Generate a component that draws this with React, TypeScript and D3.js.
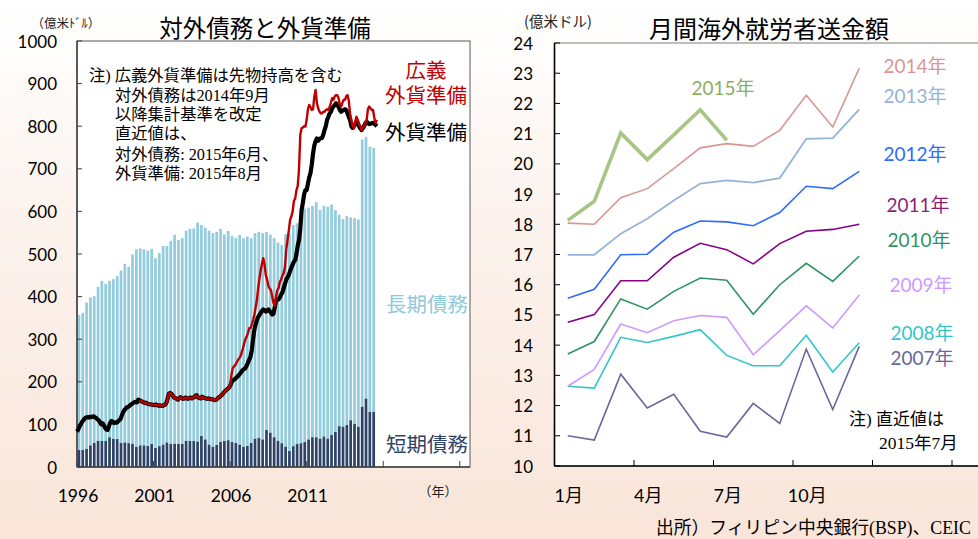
import React from "react";
import * as d3 from "d3";

// ---------------- Left chart data (対外債務と外貨準備) ----------------
// quarterly bars from 1996Q1 to 2015Q2 (億米ドル)
const shortTermDebt = [
  40, 40, 43, 51, 57, 62, 61, 61, 70, 66, 66, 57, 58, 56, 55, 47, 51, 51, 50, 54,
  45, 49, 53, 58, 54, 55, 54, 54, 62, 61, 61, 60, 73, 65, 53, 48, 52, 59, 61, 63,
  59, 57, 53, 48, 50, 57, 67, 69, 65, 87, 81, 70, 62, 56, 48, 38, 49, 54, 56, 59,
  65, 70, 70, 67, 72, 67, 75, 83, 96, 95, 99, 110, 102, 95, 142, 161, 130, 130,
];
const longTermDebt = [
  317, 322, 343, 347, 344, 361, 376, 369, 367, 375, 382, 404, 419, 414, 444, 464, 462, 460, 458, 458,
  445, 453, 466, 461, 477, 490, 479, 483, 493, 498, 499, 514, 495, 497, 502, 501, 500, 500, 485, 491,
  483, 481, 492, 489, 491, 480, 482, 483, 484, 465, 464, 467, 465, 465, 499, 509, 519, 518, 539, 548,
  544, 543, 552, 536, 541, 544, 541, 520, 496, 487, 490, 476, 482, 486, 627, 614, 622, 619,
];
// monthly foreign reserves from 1996-01 to 2015-08
const reserves = [
  83, 88, 95, 100, 106, 110, 114, 116, 117, 116, 118, 117,
  118, 119, 117, 115, 112, 110, 105, 100, 103, 98, 92, 88,
  87, 95, 104, 108, 106, 103, 105, 104, 106, 110, 112, 120,
  128, 133, 136, 140, 141, 143, 146, 148, 150, 152, 153, 152,
  158, 157, 155, 154, 152, 150, 151, 149, 148, 147, 147, 146,
  146, 145, 147, 145, 144, 145, 144, 143, 145, 146, 150, 160,
  172, 174, 172, 168, 163, 162, 160, 158, 161, 164, 162, 160,
  161, 163, 161, 160, 162, 163, 161, 163, 164, 168, 168, 163,
  162, 161, 165, 163, 162, 161, 160, 161, 160, 159, 159, 158,
  157, 158, 160, 163, 165, 168, 171, 175, 178, 181, 183, 186,
  190, 198, 203, 205, 207, 210, 213, 216, 220, 224, 228, 230,
  232, 238, 245, 252, 259, 275, 300, 322, 335, 345, 352, 357,
  362, 366, 370, 368, 365, 367, 370, 366, 362, 358, 360, 375,
  390, 392, 394, 398, 405, 410, 420, 430, 440, 445, 451, 460,
  468, 475, 482, 486, 500, 520, 533, 560, 603, 620, 640, 650,
  650, 665, 680, 690, 710, 736, 755, 765, 771, 766, 770, 772,
  772, 780, 791, 800, 815, 822, 830, 834, 842, 846, 850, 854,
  850, 845, 838, 834, 836, 838, 840, 838, 830, 822, 815, 800,
  796, 800, 805, 811, 808, 800, 795, 791, 795, 800, 807, 811,
  807, 805, 806, 807, 808, 806, 803, 800,
];
// broad reserves (incl. forward position), monthly from 2000-02 to 2015-08
const broadStartMonth = 49;
const broadReserves = [
  157, 155, 154, 152, 150, 151, 149, 148, 147, 147, 146,
  146, 145, 147, 145, 144, 145, 144, 143, 145, 146, 150, 160,
  172, 174, 172, 168, 163, 162, 160, 158, 161, 164, 162, 160,
  161, 163, 161, 160, 162, 163, 161, 163, 164, 168, 168, 163,
  162, 161, 165, 163, 162, 161, 160, 161, 160, 159, 159, 158,
  157, 158, 160, 163, 165, 168, 171, 175, 178, 181, 183, 186,
  192, 215, 232, 236, 239, 245, 250, 255, 259, 268, 278, 290,
  300, 306, 315, 326, 326, 335, 345, 357, 375, 392, 420, 443,
  462, 478, 490, 475, 450, 440, 425, 419, 415, 400, 385, 378,
  400, 415, 420, 435, 440, 450, 455, 470, 510, 533, 555, 580,
  588, 600, 625, 630, 650, 660, 700, 780, 795, 797, 800, 799,
  815, 840, 850, 845, 838, 840, 870, 885, 855, 842, 835, 830,
  830, 834, 834, 838, 840, 838, 845, 855, 866, 862, 870, 873,
  873, 866, 850, 846, 855, 862, 862, 870, 873, 860, 830, 815,
  800, 795, 810, 822, 815, 805, 800, 791, 795, 800, 807, 815,
  840, 846, 842, 838, 838, 820, 807, 815,
];
const leftYTicks = [0, 100, 200, 300, 400, 500, 600, 700, 800, 900, 1000];
const leftTickYears = [1996, 2001, 2006, 2011, 2016, 2021];
const leftLabelYears = [1996, 2001, 2006, 2011];
const leftNoteLines = [
  "対外債務は2014年9月",
  "以降集計基準を改定",
  "直近値は、",
  "対外債務: 2015年6月、",
  "外貨準備: 2015年8月",
];

// ---------------- Right chart data (月間海外就労者送金額) ----------------
const rightSlots = 16;
const monthLabelSlots = [0, 3, 6, 9];
const monthLabels = ["1月", "4月", "7月", "10月"];
const rightYTicks = [10, 11, 12, 13, 14, 15, 16, 17, 18, 19, 20, 21, 22, 23, 24];
const rightTickSlots = [3, 6, 9, 12, 15];
const years = ["2007", "2008", "2009", "2010", "2011", "2012", "2013", "2014", "2015"];
const r2007 = [11.0, 10.86, 13.04, 11.92, 12.37, 11.15, 10.96, 12.07, 11.41, 13.87, 11.87, 13.96];
const r2008 = [12.64, 12.58, 14.26, 14.09, 14.29, 14.51, 13.66, 13.32, 13.32, 14.33, 13.11, 14.08];
const r2009 = [12.64, 13.2, 14.7, 14.41, 14.81, 14.98, 14.92, 13.68, 14.48, 15.3, 14.57, 15.66];
const r2010 = [13.71, 14.12, 15.53, 15.19, 15.78, 16.22, 16.15, 15.02, 16.0, 16.71, 16.11, 16.95];
const r2011 = [14.76, 15.01, 16.13, 16.13, 16.91, 17.37, 17.16, 16.69, 17.36, 17.77, 17.83, 18.0];
const r2012 = [15.55, 15.85, 16.99, 17.01, 17.74, 18.11, 18.08, 17.95, 18.39, 19.26, 19.18, 19.75];
const r2013 = [16.99, 16.99, 17.69, 18.18, 18.79, 19.35, 19.45, 19.38, 19.53, 20.83, 20.85, 21.8];
const r2014 = [18.04, 18.0, 18.88, 19.18, 19.84, 20.53, 20.67, 20.58, 21.11, 22.27, 21.22, 23.17];
const r2015 = [18.13, 18.76, 21.02, 20.14, 20.96, 21.79, 20.78];
const remittance = [r2007, r2008, r2009, r2010, r2011, r2012, r2013, r2014, r2015];

// ---------------- styles ----------------
const SANS = "Lato, 'Noto Sans CJK JP', sans-serif";
const JP = "'Noto Sans CJK JP', sans-serif";
const SERIFJP = "'Liberation Serif', 'Noto Sans CJK JP', serif";

const yearStyle: Record<string, { color: string; text: string; width: number; lx: number; ly: number }> = {
  "2007": { color: "#68689A", text: "#68689A", width: 1.6, lx: 922, ly: 357 },
  "2008": { color: "#33C6C6", text: "#33C6C6", width: 1.6, lx: 922, ly: 332 },
  "2009": { color: "#CC99FF", text: "#CC99FF", width: 1.6, lx: 921, ly: 284 },
  "2010": { color: "#2E9560", text: "#2E9560", width: 1.6, lx: 919, ly: 239 },
  "2011": { color: "#850085", text: "#8C1F72", width: 1.6, lx: 918, ly: 204 },
  "2012": { color: "#2F6BFF", text: "#2F6BFF", width: 1.6, lx: 915, ly: 153 },
  "2013": { color: "#95B3D7", text: "#95B3D7", width: 1.8, lx: 915, ly: 95 },
  "2014": { color: "#D99694", text: "#D99694", width: 1.6, lx: 915, ly: 65 },
  "2015": { color: "#A8C585", text: "#8DAE5E", width: 3.6, lx: 723, ly: 87 },
};

export default function App() {
  // left scales
  const xL = d3.scaleLinear().domain([0, 308]).range([77, 470]);
  const yL = d3.scaleLinear().domain([0, 1000]).range([467, 41]);
  const rows = shortTermDebt.map((s, i) => ({ q: i, short: s, long: longTermDebt[i] }));
  const stacked = d3.stack<any>().keys(["short", "long"])(rows);
  const barColors = ["#2D4468", "#93CDDD"];
  const qw = xL(3) - xL(0);
  const lineL = d3
    .line<[number, number]>()
    .x((d) => xL(d[0]))
    .y((d) => yL(d[1]));
  const resPts: [number, number][] = reserves.map((v, i) => [i, v]);
  const broadPts: [number, number][] = broadReserves.map((v, i) => [broadStartMonth + i, v]);

  // right scales
  const xR = d3.scaleBand<number>().domain(d3.range(rightSlots)).range([554.5, 978.5]);
  const yR = d3.scaleLinear().domain([10, 24]).range([466, 43]);
  const lineR = d3
    .line<number>()
    .x((_, i) => (xR(i) as number) + xR.bandwidth() / 2)
    .y((d) => yR(d));

  return (
    <svg
      width={978}
      height={539}
      style={{ position: "absolute", left: 0, top: 0, display: "block" }}
      xmlns="http://www.w3.org/2000/svg"
    >
      <defs>
        <linearGradient id="bg" x1="0" y1="0" x2="0" y2="1">
          <stop offset="0" stopColor="#FFFFFF" />
          <stop offset="0.4" stopColor="#FCF3EE" />
          <stop offset="1" stopColor="#F9E5D9" />
        </linearGradient>
      </defs>
      <rect x={0} y={0} width={978} height={539} fill="url(#bg)" />

      {/* ================= LEFT CHART ================= */}
      <rect x={77} y={41} width={393} height={426} fill="#FFFFFF" stroke="#595959" strokeWidth={1} />
      <text x={265} y={27} textAnchor="middle" dominantBaseline="central" fontFamily={JP} fontSize={23.5} fill="#000">
        対外債務と外貨準備
      </text>
      <text x={66} y={22} textAnchor="middle" dominantBaseline="central" fontFamily={JP} fontSize={12.5} fill="#222">
        （億米ﾄﾞﾙ）
      </text>

      {stacked.map((layer, li) => (
        <g key={layer.key} fill={barColors[li]}>
          {layer.map((d: any, i: number) => (
            <rect
              key={i}
              x={xL(i * 3) + 0.55}
              width={qw - 1.1}
              y={yL(d[1])}
              height={yL(d[0]) - yL(d[1])}
            />
          ))}
        </g>
      ))}

      {/* axes */}
      <line x1={77} x2={77} y1={41} y2={467} stroke="#404040" strokeWidth={1.5} />
      <line x1={77} x2={470} y1={467} y2={467} stroke="#404040" strokeWidth={1.5} />
      {leftYTicks.map((t) => (
        <g key={t}>
          <line x1={77} x2={82} y1={yL(t)} y2={yL(t)} stroke="#404040" strokeWidth={1} />
          <text x={57} y={yL(t)} textAnchor="end" dominantBaseline="central" fontFamily={SANS} fontSize={17} fill="#000">
            {t}
          </text>
        </g>
      ))}
      {leftTickYears.map((yr) => (
        <line
          key={yr}
          x1={xL((yr - 1996) * 12)}
          x2={xL((yr - 1996) * 12)}
          y1={467}
          y2={461}
          stroke="#404040"
          strokeWidth={1}
        />
      ))}
      {leftLabelYears.map((yr) => (
        <text
          key={yr}
          x={xL((yr - 1996) * 12) + 1}
          y={495}
          textAnchor="middle"
          dominantBaseline="central"
          fontFamily={SANS}
          fontSize={17.5}
          fill="#000"
        >
          {yr}
        </text>
      ))}
      <text x={438} y={490} textAnchor="middle" dominantBaseline="central" fontFamily={JP} fontSize={13} fill="#222">
        （年）
      </text>

      {/* lines */}
      <path d={lineL(resPts) || ""} fill="none" stroke="#000" strokeWidth={4.2} strokeLinejoin="round" />
      <path d={lineL(broadPts) || ""} fill="none" stroke="#C00000" strokeWidth={2.4} strokeLinejoin="round" />

      {/* labels */}
      <text x={426} y={70} textAnchor="middle" dominantBaseline="central" fontFamily={SANS} fontSize={20.5} fill="#C00000">
        広義
      </text>
      <text x={426} y={95} textAnchor="middle" dominantBaseline="central" fontFamily={SANS} fontSize={20.5} fill="#C00000">
        外貨準備
      </text>
      <text x={426} y={132} textAnchor="middle" dominantBaseline="central" fontFamily={SANS} fontSize={20.5} fill="#000">
        外貨準備
      </text>
      <text x={427} y={303} textAnchor="middle" dominantBaseline="central" fontFamily={JP} fontSize={20.5} fill="#8ECADB">
        長期債務
      </text>
      <text x={427} y={443} textAnchor="middle" dominantBaseline="central" fontFamily={JP} fontSize={20.5} fill="#2D4468">
        短期債務
      </text>

      {/* note */}
      <text x={89} y={75} dominantBaseline="central" fontFamily={SERIFJP} fontSize={16.3} fill="#000">
        注) 広義外貨準備は先物持高を含む
      </text>
      {leftNoteLines.map((s, i) => (
        <text
          key={i}
          x={115}
          y={[95, 114, 133, 154, 173][i]}
          dominantBaseline="central"
          fontFamily={SERIFJP}
          fontSize={16.3}
          fill="#000"
        >
          {s}
        </text>
      ))}

      {/* ================= RIGHT CHART ================= */}
      <rect x={554.5} y={43} width={424} height={423} fill="#FFFFFF" stroke="#7F7F7F" strokeWidth={1} />
      <text x={769} y={27} textAnchor="middle" dominantBaseline="central" fontFamily={JP} fontSize={24} fill="#000">
        月間海外就労者送金額
      </text>
      <text x={558} y={20} textAnchor="middle" dominantBaseline="central" fontFamily={JP} fontSize={14.5} fill="#222">
        (億米ドル)
      </text>
      <line x1={554.5} x2={554.5} y1={43} y2={466} stroke="#000" strokeWidth={1.6} />
      <line x1={554.5} x2={978} y1={466} y2={466} stroke="#000" strokeWidth={1.6} />
      {rightYTicks.map((t) => (
        <g key={t}>
          <line x1={554.5} x2={560} y1={yR(t)} y2={yR(t)} stroke="#000" strokeWidth={1} />
          <text x={533} y={yR(t)} textAnchor="end" dominantBaseline="central" fontFamily={SANS} fontSize={17} fill="#000">
            {t}
          </text>
        </g>
      ))}
      {rightTickSlots.map((s) => (
        <line key={s} x1={xR(s) as number} x2={xR(s) as number} y1={466} y2={460} stroke="#000" strokeWidth={1} />
      ))}
      {monthLabelSlots.map((s, i) => (
        <text
          key={s}
          x={(xR(s) as number) + xR.bandwidth() / 2 + 1}
          y={495}
          textAnchor="middle"
          dominantBaseline="central"
          fontFamily={SANS}
          fontSize={18}
          fill="#000"
        >
          {monthLabels[i]}
        </text>
      ))}

      {remittance.map((vals, i) => {
        const st = yearStyle[years[i]];
        return (
          <path
            key={years[i]}
            d={lineR(vals) || ""}
            fill="none"
            stroke={st.color}
            strokeWidth={st.width}
            strokeLinejoin="miter"
          />
        );
      })}
      {years.map((y) => {
        const st = yearStyle[y];
        return (
          <text
            key={y}
            x={st.lx}
            y={st.ly}
            textAnchor="middle"
            dominantBaseline="central"
            fontFamily={SANS}
            fontSize={19}
            fill={st.text}
          >
            {y + "年"}
          </text>
        );
      })}
      <text x={849} y={419} dominantBaseline="central" fontFamily={SERIFJP} fontSize={17} fill="#000">
        注) 直近値は
      </text>
      <text x={879} y={443} dominantBaseline="central" fontFamily={SERIFJP} fontSize={17.5} fill="#000">
        2015年7月
      </text>

      {/* source */}
      <text x={656} y={528} dominantBaseline="central" fontFamily={SERIFJP} fontSize={17.8} fill="#000">
        出所）フィリピン中央銀行(BSP)、CEIC
      </text>
    </svg>
  );
}
